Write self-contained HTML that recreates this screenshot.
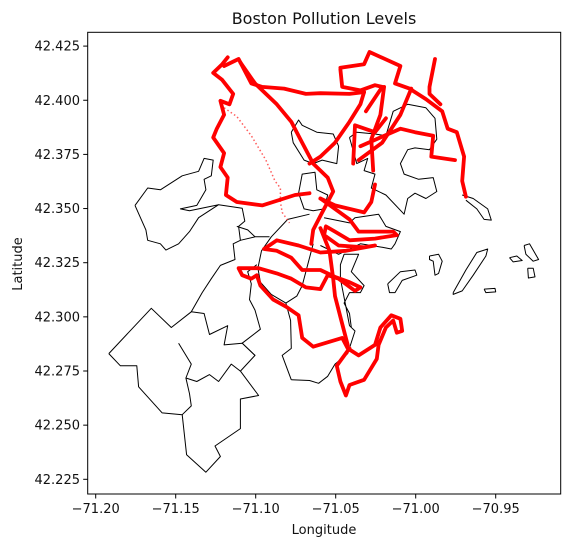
<!DOCTYPE html>
<html><head><meta charset="utf-8"><style>
html,body{margin:0;padding:0;background:#fff;}
svg{display:block;font-family:"DejaVu Sans","Liberation Sans",sans-serif;}
</style></head><body>
<svg id="chart" width="570" height="547" viewBox="0 0 570 547">
<rect width="570" height="547" fill="#fff"/>
<text x="324" y="24" text-anchor="middle" font-size="16" fill="#111">Boston Pollution Levels</text>
<g id="map"></g>
<g id="axes"></g>
<text x="324" y="534" text-anchor="middle" font-size="13" fill="#111">Longitude</text>
<text transform="translate(22,264) rotate(-90)" text-anchor="middle" font-size="13" fill="#111">Latitude</text>
</svg>
<script>
// tick values
const xTicks = [-71.20, -71.15, -71.10, -71.05, -71.00, -70.95];
const xTickLabels = ["−71.20", "−71.15", "−71.10", "−71.05", "−71.00", "−70.95"];
const yTicks = [42.225, 42.250, 42.275, 42.300, 42.325, 42.350, 42.375, 42.400, 42.425];
const yTickLabels = ["42.225", "42.250", "42.275", "42.300", "42.325", "42.350", "42.375", "42.400", "42.425"];

// Digitized shapes (digitizer grid units, converted to lon/lat below)
const neighborhoodBorders = [
 [[370,590],[405,540],[440,545],[500,505],[545,492],[560,455],[585,460],[580,505],[560,515],[565,545],[540,590],[495,600],[520,605],[600,588],[545,625],[520,665],[490,700],[455,718],[440,700],[405,690],[400,660],[370,590]],
 [[298,1015],[415,885],[470,940],[525,895],[560,900],[575,960],[625,935],[615,990],[665,985],[700,1020],[660,1065],[710,1135],[660,1145],[660,1230],[590,1280],[605,1310],[565,1355],[512,1305],[500,1190],[445,1185],[380,1110],[375,1050],[330,1050],[298,1015]],
 [[600,588],[665,598],[672,635],[655,650],[660,690],[640,700],[645,745],[605,762],[580,800],[555,840],[525,895]],
 [[490,985],[525,1045],[510,1085],[540,1095],[575,1075],[600,1095],[635,1045],[660,1065]],
 [[510,1085],[520,1130],[525,1165],[500,1190]],
 [[700,1020],[665,985],[715,945],[700,890],[685,860],[690,815],[680,780],[705,760]],
 [[850,615],[790,630],[745,680],[718,720],[708,770],[715,810],[745,845],[785,870],[798,920],[800,1000],[775,1020],[800,1090]],
 [[860,700],[845,760],[830,820],[815,850],[785,870]],
 [[800,1090],[850,1092],[875,1100],[900,1080],[920,1045],[955,1015],[975,950],[960,935],[950,880],[935,800],[935,760],[945,730],[985,730],[965,780],[1000,820],[990,840],[960,840],[945,870],[960,900],[965,940]],
 [[890,625],[960,640],[975,625],[1040,615],[1060,650],[1100,665],[1085,700],[1075,715],[1050,710],[990,700],[930,730],[880,705]],
 [[800,380],[820,345],[830,360],[870,380],[915,385],[930,420],[925,470],[885,460],[860,470],[835,460],[805,410],[800,380]],
 [[960,395],[980,470],[1010,455],[1000,490],[1030,500],[1020,540],[1060,560],[1110,615],[1120,570],[1140,555],[1170,570],[1200,550],[1190,510],[1150,515],[1110,500],[1100,470],[1120,430],[1140,425],[1180,430],[1200,400],[1195,340],[1170,310],[1120,300],[1080,320],[1060,390],[1030,385],[980,380],[960,395]],
 [[1270,560],[1300,570],[1340,600],[1350,632],[1330,630],[1310,600],[1280,575]],
 [[820,555],[830,500],[865,495],[870,545],[900,560],[890,600],[860,605],[835,600],[820,555]],
 [[660,690],[700,680],[740,680]],
 [[650,650],[680,660],[700,680]],
 [[1180,735],[1205,730],[1215,750],[1205,785],[1195,790],[1190,750],[1180,745],[1180,735]],
 [[1065,815],[1100,780],[1140,775],[1145,790],[1105,805],[1085,840],[1070,840],[1065,815]],
 [[1245,840],[1280,775],[1310,725],[1340,715],[1335,735],[1300,790],[1270,835],[1245,845],[1245,840]],
 [[1400,740],[1420,735],[1435,748],[1410,752],[1400,740]],
 [[1440,705],[1455,700],[1480,745],[1465,750],[1445,730],[1440,705]],
 [[1450,770],[1465,770],[1470,795],[1452,798],[1450,770]],
 [[1330,830],[1360,828],[1362,838],[1335,840],[1330,830]]
];
const pollutionRoutes = [
 [[625,165],[610,185],[585,210],[610,230],[640,270],[630,300],[605,290],[615,330],[595,370],[585,395],[615,440],[605,480],[625,510],[620,560],[650,580],[720,590],[810,560],[850,555]],
 [[615,190],[655,170],[690,240],[720,250],[780,255],[840,270],[880,268],[960,270],[1000,265]],
 [[660,180],[700,240],[760,300],[800,350],[830,410],[860,470],[900,510],[915,550],[900,580],[880,620],[860,660],[855,700]],
 [[1000,265],[990,300],[960,350],[920,410],[880,450],[850,470]],
 [[935,195],[1000,185],[1015,150],[1100,190],[1085,240],[1125,255],[1170,285],[1215,320],[1230,370],[1255,380],[1275,450],[1270,520],[1280,565]],
 [[1005,320],[1050,250],[1030,245],[990,260],[940,250],[935,200]],
 [[970,470],[975,360],[1030,380],[1060,340]],
 [[1055,250],[1045,330],[1020,400],[1025,490]],
 [[1130,255],[1100,330],[1050,410],[985,460]],
 [[990,420],[1100,370],[1140,380],[1190,390],[1185,450],[1250,460]],
 [[1195,170],[1180,250],[1180,270],[1210,300]],
 [[1030,530],[1020,580],[1000,610],[960,600],[920,590],[880,570]],
 [[880,570],[920,600],[960,630],[985,665],[1080,665],[1090,675],[1030,685],[960,690],[920,665],[895,650],[890,675],[930,705],[1000,710],[1030,705],[950,720],[880,725],[820,705],[760,690],[725,715],[760,720],[800,740],[830,775],[880,775],[920,795],[960,810],[990,825],[975,835],[930,800],[900,790],[880,830],[840,825],[800,800],[760,785],[710,770],[655,770],[665,790],[690,800],[705,790],[715,820],[750,860],[785,880],[820,905],[830,970],[860,995],[940,970],[955,1000],[985,1020],[1030,990],[1045,940],[1075,905],[1100,915],[1105,950],[1090,955],[1080,920],[1060,940],[1040,990],[1035,1030],[1000,1090],[960,1105],[950,1135],[935,1095],[925,1050],[960,1000]],
 [[880,655],[905,720],[915,800],[920,850],[935,910],[955,990]]
];
const faintRoute = [[615,310],[650,335],[690,390],[730,460],[755,520],[770,540],[770,580],[775,610],[795,640]];

// digitizer -> lon/lat
function toLon(d){ return -71.2 + (d-262)/4400; }
function toLat(d){ return 42.425 - (d-133)/6212; }
// axis scales
function xScale(lon){ return 95.7 + (lon + 71.2) * 1600; }
function yScale(lat){ return 479.3 - (lat - 42.225) * 2166; }

const NS = "http://www.w3.org/2000/svg";
const map = document.getElementById('map');
const axes = document.getElementById('axes');
function pathFrom(pts){
  return pts.map((p,i)=>(i?'L':'M')+xScale(toLon(p[0])).toFixed(1)+','+yScale(toLat(p[1])).toFixed(1)).join('');
}
neighborhoodBorders.forEach((pts)=>{
  const p = document.createElementNS(NS,'path');
  p.setAttribute('d', pathFrom(pts));
  p.setAttribute('fill','none'); p.setAttribute('stroke','#000'); p.setAttribute('stroke-width','1');
  p.setAttribute('stroke-linejoin','round');
  
  
  map.appendChild(p);
});
{
  const p = document.createElementNS(NS,'path');
  p.setAttribute('d', pathFrom(faintRoute));
  p.setAttribute('fill','none'); p.setAttribute('stroke','#f33'); p.setAttribute('stroke-width','1.5');
  p.setAttribute('stroke-dasharray','1.5 2.5'); p.setAttribute('opacity','0.8');
  
  
  map.appendChild(p);
}
pollutionRoutes.forEach((pts)=>{
  const p = document.createElementNS(NS,'path');
  p.setAttribute('d', pathFrom(pts));
  p.setAttribute('fill','none'); p.setAttribute('stroke','#f00'); p.setAttribute('stroke-width','3.8');
  p.setAttribute('stroke-linejoin','round'); p.setAttribute('stroke-linecap','round');
  
  
  map.appendChild(p);
});
// frame
const fr = document.createElementNS(NS,'rect');
fr.setAttribute('x','87.7'); fr.setAttribute('y','32.3'); fr.setAttribute('width','473'); fr.setAttribute('height','461.7');
fr.setAttribute('fill','none'); fr.setAttribute('stroke','#000'); fr.setAttribute('stroke-width','1');


axes.appendChild(fr);
xTicks.forEach((v,i)=>{
  const x = xScale(v);
  const t = document.createElementNS(NS,'line');
  t.setAttribute('x1',x); t.setAttribute('x2',x); t.setAttribute('y1',494); t.setAttribute('y2',498.5);
  t.setAttribute('stroke','#000');
  
  
  axes.appendChild(t);
  const l = document.createElementNS(NS,'text');
  l.setAttribute('x',x); l.setAttribute('y',513); l.setAttribute('text-anchor','middle');
  l.setAttribute('font-size','13'); l.setAttribute('fill','#111');
  l.textContent = xTickLabels[i];
  
  
  axes.appendChild(l);
});
yTicks.forEach((v,i)=>{
  const y = yScale(v);
  const t = document.createElementNS(NS,'line');
  t.setAttribute('x1',83.2); t.setAttribute('x2',87.7); t.setAttribute('y1',y); t.setAttribute('y2',y);
  t.setAttribute('stroke','#000');
  
  
  axes.appendChild(t);
  const l = document.createElementNS(NS,'text');
  l.setAttribute('x',80); l.setAttribute('y',y+4.5); l.setAttribute('text-anchor','end');
  l.setAttribute('font-size','13'); l.setAttribute('fill','#111');
  l.textContent = yTickLabels[i];
  
  
  axes.appendChild(l);
});
</script>
</body></html>
